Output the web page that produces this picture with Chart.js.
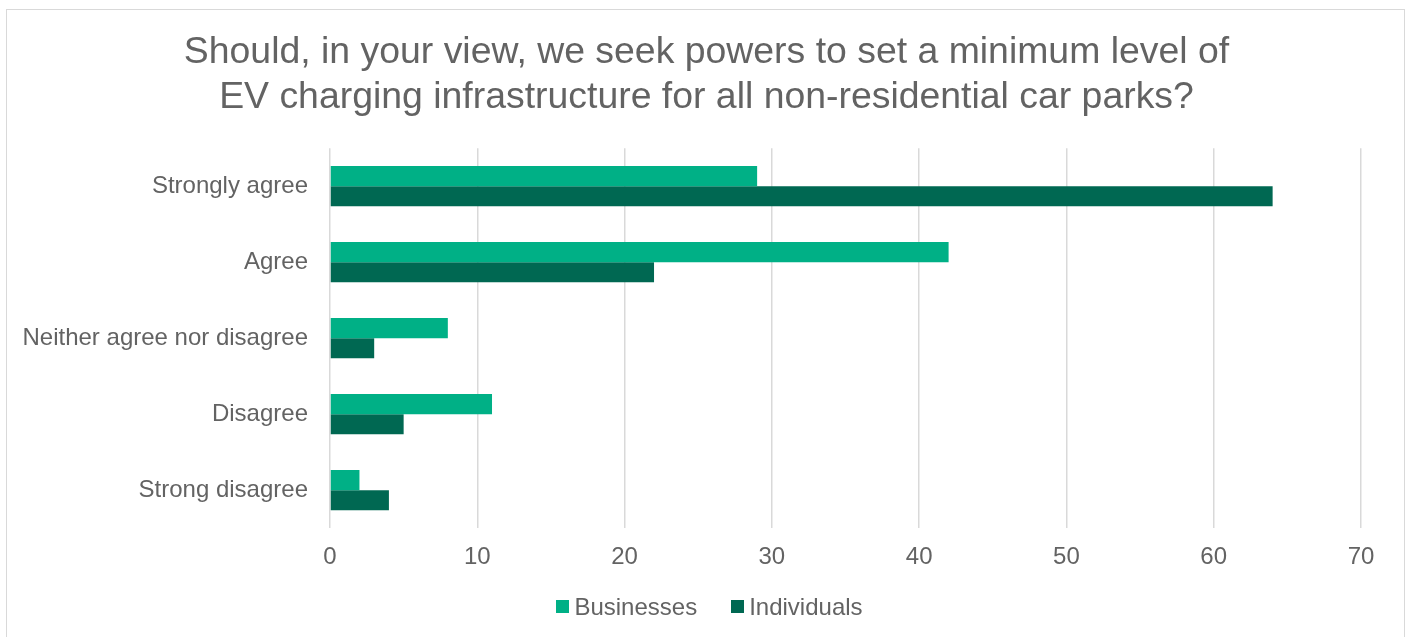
<!DOCTYPE html>
<html>
<head>
<meta charset="utf-8">
<script src="https://cdn.jsdelivr.net/npm/chart.js@4/dist/chart.umd.min.js"></script>
<style>
    html, body { margin: 0; padding: 0; background: #fff; }
    #wrap { position: relative; width: 1413px; height: 637px; overflow: hidden; }
    #frame { position: absolute; left: 6px; top: 9px; width: 1397px; height: 700px; border: 1px solid #d9d9d9; pointer-events: none; }
    canvas { position: absolute; left: 0; top: 0; }
    #legend { position: absolute; left: 0; top: 592px; width: 1413px; padding-left: 6px; box-sizing: border-box;
              display: flex; justify-content: center; font: 24px 'Liberation Sans', Arial, sans-serif; color: #636363; line-height: 29px; }
    #legend .item { display: flex; align-items: center; margin: 0 17px; }
    #legend .box { width: 13px; height: 13px; margin-right: 5px; }
</style>
</head>
<body>
<div id="wrap">
    <canvas id="myChart" width="1413" height="637"></canvas>
    <div id="legend"></div>
    <div id="frame"></div>
</div>
<script>
// Survey answers, counts per group
const categories = ["Strongly agree", "Agree", "Neither agree nor disagree", "Disagree", "Strong disagree"];
const businesses = [29, 42, 8, 11, 2];
const individuals = [64, 22, 3, 5, 4];
const seriesNames = ["Businesses", "Individuals"];
const barColors = ["#00b086", "#006852"];

const textColor = "#636363";
const fontFamily = "'Liberation Sans', Arial, sans-serif";

// the long category label would be clipped by the left padding, so let the y scale reach the canvas edge
const widenYScale = {
    id: 'widenYScale',
    afterLayout(chart) {
        chart.scales.y.left = 0;
    }
};

const ctx = document.getElementById('myChart');

const chart = new Chart(ctx, {
    type: "bar",
    data: {
        labels: categories,
        datasets: [{
            label: seriesNames[0],
            data: businesses,
            backgroundColor: barColors[0]
        }, {
            label: seriesNames[1],
            data: individuals,
            backgroundColor: barColors[1]
        }]
    },
    options: {
        indexAxis: 'y',
        responsive: false,
        animation: false,
        categoryPercentage: 0.53,
        barPercentage: 1.0,
        layout: {
            padding: { top: 10, right: 52, bottom: 50, left: 52 }
        },
        scales: {
            x: {
                min: 0,
                max: 70,
                ticks: {
                    stepSize: 10,
                    color: textColor,
                    font: { family: fontFamily, size: 24 },
                    padding: 15
                },
                grid: { color: "#d9d9d9", lineWidth: 1.5, drawTicks: false },
                border: { display: false }
            },
            y: {
                afterFit: (scale) => { scale.width = 278; },
                ticks: {
                    color: textColor,
                    font: { family: fontFamily, size: 24 },
                    padding: 22
                },
                grid: { display: false, drawTicks: false },
                border: { display: false }
            }
        },
        plugins: {
            legend: { display: false },
            title: {
                display: true,
                text: ["Should, in your view, we seek powers to set a minimum level of",
                       "EV charging infrastructure for all non-residential car parks?"],
                color: textColor,
                font: { family: fontFamily, size: 37.4, weight: 'normal', lineHeight: 1.205 },
                padding: { top: 20, bottom: 28 }
            },
            tooltip: { enabled: false }
        }
    },
    plugins: [widenYScale]
});

// legend under the axis, built from the datasets
const legendEl = document.getElementById('legend');
chart.data.datasets.forEach(ds => {
    const item = document.createElement('div');
    item.className = 'item';
    const box = document.createElement('span');
    box.className = 'box';
    box.style.background = ds.backgroundColor;
    item.appendChild(box);
    item.appendChild(document.createTextNode(ds.label));
    legendEl.appendChild(item);
});
</script>
</body>
</html>
